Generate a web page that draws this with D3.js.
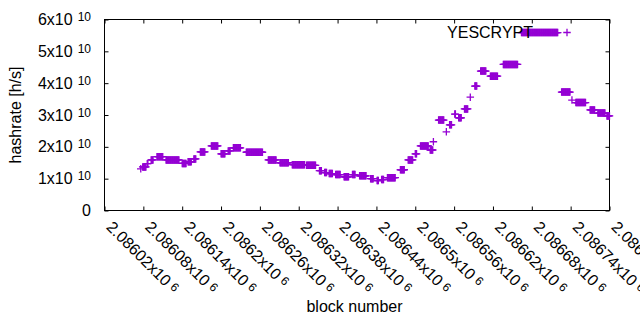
<!DOCTYPE html>
<html>
<head>
<meta charset="utf-8">
<script src="https://cdn.jsdelivr.net/npm/d3@7"></script>
<style>
  body { margin: 0; background: #fff; }
  text { font-family: "Liberation Sans", Arial, sans-serif; fill: #000; }
</style>
</head>
<body>
<div id="chart"></div>
<script>
// runs of blocks with the same hashrate
var runStart = [2086076, 2086079, 2086086, 2086092, 2086101, 2086115, 2086140, 2086149, 2086158, 2086168,
                2086185, 2086200, 2086211, 2086219, 2086239, 2086273, 2086291, 2086310, 2086332, 2086352,
                2086360, 2086367, 2086377, 2086390, 2086403, 2086414, 2086431, 2086441, 2086448, 2086457,
                2086477, 2086489, 2086500, 2086508, 2086523, 2086528, 2086536, 2086548, 2086553, 2086561,
                2086567, 2086576, 2086585, 2086592, 2086601, 2086616, 2086636, 2086664, 2086726, 2086742,
                2086748, 2086770, 2086782, 2086796];
var runEnd = [2086076, 2086084, 2086087, 2086095, 2086110, 2086135, 2086146, 2086154, 2086161, 2086175,
              2086195, 2086206, 2086214, 2086230, 2086264, 2086285, 2086304, 2086329, 2086346, 2086355,
              2086363, 2086372, 2086384, 2086397, 2086407, 2086424, 2086435, 2086443, 2086451, 2086469,
              2086483, 2086496, 2086502, 2086520, 2086527, 2086528, 2086544, 2086548, 2086556, 2086562,
              2086571, 2086581, 2086585, 2086595, 2086609, 2086627, 2086658, 2086720, 2086739, 2086742,
              2086763, 2086777, 2086793, 2086800];
var runHashrate = [1.31e10, 1.37e10, 1.47e10, 1.59e10, 1.69e10, 1.59e10, 1.48e10, 1.53e10, 1.62e10, 1.84e10,
                   2.03e10, 1.78e10, 1.87e10, 1.97e10, 1.83e10, 1.59e10, 1.50e10, 1.44e10, 1.42e10, 1.25e10,
                   1.19e10, 1.16e10, 1.13e10, 1.06e10, 1.13e10, 1.09e10, 1.00e10, 0.94e10, 0.97e10, 1.03e10,
                   1.28e10, 1.59e10, 1.78e10, 2.03e10, 1.90e10, 2.16e10, 2.84e10, 2.47e10, 2.69e10, 3.03e10,
                   2.91e10, 3.19e10, 3.56e10, 3.91e10, 4.38e10, 4.22e10, 4.59e10, 5.59e10, 3.72e10, 3.47e10,
                   3.39e10, 3.16e10, 3.06e10, 2.97e10];

var xTickValues = [2086020, 2086080, 2086140, 2086200, 2086260, 2086320, 2086380,
                   2086440, 2086500, 2086560, 2086620, 2086680, 2086740, 2086800];
var xTickLabels = ["2.08602", "2.08608", "2.08614", "2.0862", "2.08626", "2.08632", "2.08638",
                   "2.08644", "2.0865", "2.08656", "2.08662", "2.08668", "2.08674", "2.0868"];
var yTickValues = [0, 1e10, 2e10, 3e10, 4e10, 5e10, 6e10];
var yTickLabels = ["0", "1", "2", "3", "4", "5", "6"];
var seriesName = "YESCRYPT";

var width = 640, height = 330;
var plot = {left: 104.5, right: 609.5, top: 19.5, bottom: 210.5};
var purple = "#9400d3";

var svg = d3.select("#chart").append("svg")
    .attr("width", width)
    .attr("height", height);

var x = d3.scaleLinear().domain([2086020, 2086800]).range([plot.left, plot.right]);
var y = d3.scaleLinear().domain([0, 6e10]).range([plot.bottom, plot.top]);

// one point per block
var points = [];
runStart.forEach(function(s, i) {
  for (var b = s; b <= runEnd[i]; b++) points.push({block: b, hashrate: runHashrate[i]});
});

function plus(cx, cy) {
  var r = 3.75;
  return "M" + (cx - r) + "," + cy + "h" + (2 * r) + "M" + cx + "," + (cy - r) + "v" + (2 * r);
}

// ticks on all four sides, pointing in
var tickLen = 4;
svg.append("g").attr("transform", "translate(0," + plot.bottom + ")")
  .call(d3.axisBottom(x).tickValues(xTickValues).tickSize(-tickLen).tickFormat(""));
svg.append("g").attr("transform", "translate(0," + plot.top + ")")
  .call(d3.axisTop(x).tickValues(xTickValues).tickSize(-tickLen).tickFormat(""));
svg.append("g").attr("transform", "translate(" + plot.left + ",0)")
  .call(d3.axisLeft(y).tickValues(yTickValues).tickSize(-tickLen).tickFormat(""));
svg.append("g").attr("transform", "translate(" + plot.right + ",0)")
  .call(d3.axisRight(y).tickValues(yTickValues).tickSize(-tickLen).tickFormat(""));
svg.selectAll(".domain").remove();
svg.selectAll(".tick line").attr("stroke", "#000");

// frame
svg.append("rect")
  .attr("x", plot.left).attr("y", plot.top)
  .attr("width", plot.right - plot.left).attr("height", plot.bottom - plot.top)
  .attr("fill", "none").attr("stroke", "#000").attr("stroke-width", 1);

// y tick labels
var yLab = svg.selectAll(".ylab").data(yTickValues).enter()
  .append("text").attr("class", "ylab")
  .attr("x", 91).attr("y", function(d) { return y(d) + 5.5; })
  .attr("text-anchor", "end").style("font-size", "16px");
yLab.each(function(d, i) {
  var t = d3.select(this);
  if (d === 0) { t.text(yTickLabels[i]); return; }
  t.append("tspan").text(yTickLabels[i] + "x10");
  t.append("tspan").attr("dx", 5).attr("dy", -4).style("font-size", "12px").text("10");
});

// x tick labels, rotated
var xLab = svg.selectAll(".xlab").data(xTickValues).enter()
  .append("text").attr("class", "xlab")
  .attr("transform", function(d) { return "translate(" + (x(d) + 1) + ",228) rotate(45)"; })
  .style("font-size", "16px");
xLab.append("tspan").text(function(d, i) { return xTickLabels[i] + "x10"; });
xLab.append("tspan").attr("dx", 4).attr("dy", -3).style("font-size", "12px").text("6");

// axis titles
svg.append("text")
  .attr("x", 354.5).attr("y", 312)
  .attr("text-anchor", "middle").style("font-size", "16px")
  .text("block number");
svg.append("text")
  .attr("transform", "translate(21,115) rotate(-90)")
  .attr("text-anchor", "middle").style("font-size", "16px")
  .text("hashrate [h/s]");

// data
svg.append("g").selectAll("path").data(points).enter()
  .append("path")
  .attr("d", function(d) { return plus(x(d.block), y(d.hashrate)); })
  .attr("stroke", purple).attr("stroke-width", 1.3).attr("fill", "none");

// key
svg.append("text")
  .attr("x", 533).attr("y", 37.5)
  .attr("text-anchor", "end").style("font-size", "16px")
  .text(seriesName);
svg.append("path")
  .attr("d", plus(567, 32.5))
  .attr("stroke", purple).attr("stroke-width", 1.3).attr("fill", "none");
</script>
</body>
</html>
